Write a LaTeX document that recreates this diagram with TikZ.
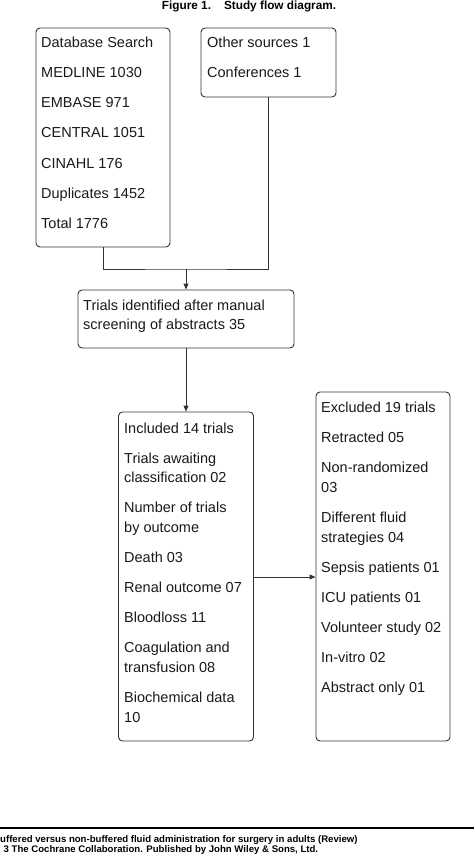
\documentclass[tikz,border=0pt]{standalone}
\usepackage{fontspec}
\setmainfont{Liberation Sans}
\usetikzlibrary{arrows.meta}
\begin{document}
\begin{tikzpicture}[x=1pt,y=-1pt,
  box/.style={draw=black!80, line width=0.9pt, rounded corners=4pt, inner sep=0pt},
  txt/.style={anchor=base west, inner sep=0pt, font=\fontsize{14.5}{17}\selectfont, text=black!90},
  conn/.style={draw=black!80, line width=0.9pt},
  arr/.style={conn, -{Triangle[length=6pt,width=5pt]}},
  foot/.style={anchor=base west, inner sep=0pt, font=\bfseries\fontsize{9.6}{11}\selectfont}]
\useasboundingbox (0,0) rectangle (474,856);

\node[font=\bfseries\fontsize{11.8}{13}\selectfont, anchor=base, inner sep=0pt] (title) at (249,10) {Figure 1.\hspace{1.1em}Study flow diagram.};

\node[box, minimum width=134pt, minimum height=219pt] (A) at (103,137.5) {};
\node[box, minimum width=135pt, minimum height=69pt] (B) at (268.5,62.5) {};
\node[box, minimum width=216pt, minimum height=58pt] (C) at (186,319) {};
\node[box, minimum width=135pt, minimum height=329pt] (D) at (186,576.5) {};
\node[box, minimum width=134pt, minimum height=349pt] (E) at (383,566.5) {};

\foreach \y/\t [count=\i] in {48/Database Search, 78/MEDLINE 1030, 108/EMBASE 971, 138/CENTRAL 1051, 168/CINAHL 176, 198/Duplicates 1452, 228/Total 1776}
  \node[txt] (a\i) at (41,\y) {\t};
\foreach \y/\t [count=\i] in {48/Other sources 1, 78/Conferences 1}
  \node[txt] (b\i) at (207,\y) {\t};
\foreach \y/\t [count=\i] in {310/Trials identified after manual, 329/screening of abstracts 35}
  \node[txt] (c\i) at (83,\y) {\t};
\foreach \y/\t [count=\i] in {433/Included 14 trials, 463/Trials awaiting, 482/classification 02, 512/Number of trials, 532/by outcome, 562/Death 03, 592/Renal outcome 07, 622/Bloodloss 11, 652/Coagulation and, 672/transfusion 08, 702/Biochemical data, 722/10}
  \node[txt] (d\i) at (124,\y) {\t};
\foreach \y/\t [count=\i] in {412/Excluded 19 trials, 442/Retracted 05, 472/Non-randomized, 492/03, 522/Different fluid, 542/strategies 04, 572/Sepsis patients 01, 602/ICU patients 01, 632/Volunteer study 02, 662/In-vitro 02, 692/Abstract only 01}
  \node[txt] (e\i) at (321,\y) {\t};

\coordinate (m) at (186,269);
\draw[conn] (A.south) |- (m) -| (B.south);
\draw[arr] (m) -- (C.north);
\draw[arr] (C.south) -- (D.north);
\coordinate (h) at (0,577);
\draw[arr] (D.east |- h) -- (E.west |- h);

\coordinate (fl) at (0,828);
\coordinate (fr) at (474,828);
\draw[line width=1.4pt] (fl) -- (fr);
\node[foot] (f1) at (0,842) {uffered versus non-buffered fluid administration for surgery in adults (Review)};
\node[foot] (f2) at (3.5,852.5) {3 The Cochrane Collaboration. Published by John Wiley \& Sons, Ltd.};
\end{tikzpicture}
\end{document}
